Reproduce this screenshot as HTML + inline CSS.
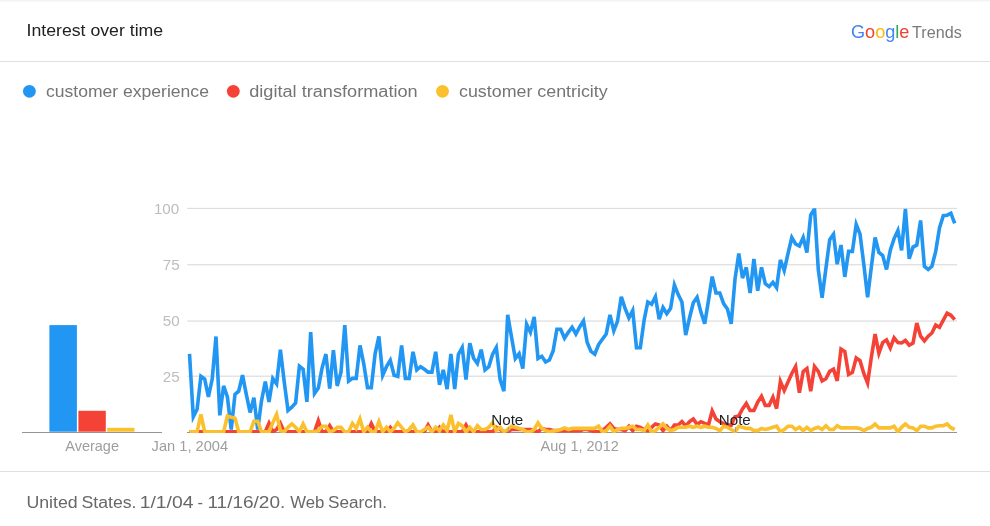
<!DOCTYPE html>
<html lang="en">
<head>
<meta charset="utf-8">
<title>Interest over time - Google Trends</title>
<style>
html,body{margin:0;padding:0;background:#fff;}
body{width:990px;height:526px;overflow:hidden;font-family:'Liberation Sans', Arial, sans-serif;}
#widget{position:relative;width:990px;height:526px;background:#fff;}
svg{position:absolute;left:0;top:0;display:block;}
svg text{font-family:'Liberation Sans', Arial, sans-serif;}
</style>
</head>
<body>
<div id="widget">
<svg width="990" height="526" viewBox="0 0 990 526">

<defs><clipPath id="plot"><rect x="186" y="208.2" width="772" height="224.8"/></clipPath></defs>
<rect x="0" y="0" width="990" height="526" fill="#fff"/>
<rect x="0" y="0.4" width="990" height="1" fill="#ededed"/>
<rect x="0" y="61" width="990" height="1" fill="#e0e0e0"/>
<rect x="0" y="471" width="990" height="1" fill="#e0e0e0"/>
<text x="26.5" y="35.6" font-size="17.30" fill="#212121" text-anchor="start" textLength="136.7" lengthAdjust="spacingAndGlyphs">Interest over time</text>
<text x="850.95" y="37.8" font-size="18.3" textLength="58.49" lengthAdjust="spacingAndGlyphs"><tspan fill="#4285f4">G</tspan><tspan fill="#ea4335">o</tspan><tspan fill="#fbbc05">o</tspan><tspan fill="#4285f4">g</tspan><tspan fill="#34a853">l</tspan><tspan fill="#ea4335">e</tspan></text>
<text x="912.1" y="37.8" font-size="17.20" fill="#7a7a7a" text-anchor="start" textLength="49.6" lengthAdjust="spacingAndGlyphs">Trends</text>
<circle cx="29.4" cy="91.3" r="6.4" fill="#2196f3"/>
<text x="46.0" y="96.5" font-size="17.30" fill="#757575" text-anchor="start" textLength="162.9" lengthAdjust="spacingAndGlyphs">customer experience</text>
<circle cx="233.3" cy="91.3" r="6.4" fill="#f44336"/>
<text x="249.2" y="96.5" font-size="17.30" fill="#757575" text-anchor="start" textLength="168.5" lengthAdjust="spacingAndGlyphs">digital transformation</text>
<circle cx="442.5" cy="91.3" r="6.4" fill="#fbc02d"/>
<text x="459.0" y="96.5" font-size="17.30" fill="#757575" text-anchor="start" textLength="148.7" lengthAdjust="spacingAndGlyphs">customer centricity</text>
<rect x="187.2" y="207.84" width="769.8" height="1.24" fill="#dedede"/>
<text x="153.9" y="213.8" font-size="15.00" fill="#bdbdbd" text-anchor="start" textLength="25.3" lengthAdjust="spacingAndGlyphs">100</text>
<rect x="187.2" y="264.14" width="769.8" height="1.24" fill="#dedede"/>
<text x="162.7" y="270.1" font-size="15.00" fill="#bdbdbd" text-anchor="start" textLength="16.9" lengthAdjust="spacingAndGlyphs">75</text>
<rect x="187.2" y="320.44" width="769.8" height="1.24" fill="#dedede"/>
<text x="162.7" y="326.4" font-size="15.00" fill="#bdbdbd" text-anchor="start" textLength="16.9" lengthAdjust="spacingAndGlyphs">50</text>
<rect x="187.2" y="375.58" width="769.8" height="1.24" fill="#dedede"/>
<text x="162.7" y="381.5" font-size="15.00" fill="#bdbdbd" text-anchor="start" textLength="16.9" lengthAdjust="spacingAndGlyphs">25</text>
<rect x="22" y="432" width="140" height="1" fill="#959595"/>
<rect x="187" y="432" width="770" height="1" fill="#959595"/>
<rect x="49.4" y="325.1" width="27.5" height="106.6" fill="#2196f3"/>
<rect x="78.4" y="410.8" width="27.4" height="20.9" fill="#f44336"/>
<rect x="107.2" y="427.8" width="27.3" height="3.9" fill="#fbc02d"/>
<text x="65.3" y="450.5" font-size="14.80" fill="#9e9e9e" text-anchor="start" textLength="53.7" lengthAdjust="spacingAndGlyphs">Average</text>
<text x="151.6" y="450.5" font-size="14.80" fill="#9e9e9e" text-anchor="start" textLength="76.5" lengthAdjust="spacingAndGlyphs">Jan 1, 2004</text>
<text x="540.6" y="450.5" font-size="14.80" fill="#9e9e9e" text-anchor="start" textLength="78.2" lengthAdjust="spacingAndGlyphs">Aug 1, 2012</text>
<polyline fill="none" stroke="#2196f3" stroke-width="3.60" stroke-linejoin="miter" stroke-miterlimit="4" stroke-linecap="butt" clip-path="url(#plot)" points="189.5,353.9 193.3,416.8 197.1,409.3 200.9,376.3 204.7,379.1 208.4,397.0 212.2,379.1 216.0,336.5 219.8,415.3 223.6,385.9 227.4,397.0 231.2,429.6 235.0,394.4 238.7,391.2 242.5,375.2 246.3,394.4 250.1,412.5 253.9,397.6 257.7,429.6 261.5,400.8 265.3,381.6 269.0,401.9 272.8,378.5 276.6,383.8 280.4,349.7 284.2,381.6 288.0,410.4 291.8,407.2 295.6,402.9 299.4,366.3 303.1,369.3 306.9,401.9 310.7,332.2 314.5,393.4 318.3,388.0 322.1,367.8 325.9,354.1 329.7,388.5 333.4,350.1 337.2,385.9 341.0,372.1 344.8,325.2 348.6,381.2 352.4,378.4 356.2,378.4 360.0,345.4 363.7,363.5 367.5,387.6 371.3,387.6 375.1,353.9 378.9,336.5 382.7,375.2 386.5,366.7 390.3,360.3 394.1,375.2 397.8,376.3 401.6,345.4 405.4,378.4 409.2,378.4 413.0,351.8 416.8,369.9 420.6,366.7 424.4,369.3 428.1,372.1 431.9,372.1 435.7,351.8 439.5,384.8 443.3,369.9 447.1,389.1 450.9,353.9 454.7,389.1 458.4,354.5 462.2,347.5 466.0,379.5 469.8,343.3 473.6,358.2 477.4,363.5 481.2,349.7 485.0,369.9 488.8,366.7 492.5,354.5 496.3,347.5 500.1,379.5 503.9,391.2 507.7,314.8 511.5,337.0 515.3,358.5 519.1,353.8 522.8,368.5 526.6,324.3 530.4,332.3 534.2,317.0 538.0,358.5 541.8,356.3 545.6,362.0 549.4,360.0 553.1,351.0 556.9,329.3 560.7,329.3 564.5,338.2 568.3,332.3 572.1,327.2 575.9,334.0 579.7,327.0 583.5,321.0 587.2,342.5 591.0,351.4 594.8,354.1 598.6,344.5 602.4,339.2 606.2,334.0 610.0,314.8 613.8,330.8 617.5,321.2 621.3,296.7 625.1,308.4 628.9,318.0 632.7,310.6 636.5,347.8 640.3,347.8 644.1,320.2 647.8,302.0 651.6,304.2 655.4,296.7 659.2,319.3 663.0,307.5 666.8,313.8 670.6,308.4 674.4,285.0 678.2,294.6 681.9,302.0 685.7,335.0 689.5,318.0 693.3,302.8 697.1,297.2 700.9,312.1 704.7,323.8 708.5,300.4 712.2,276.6 716.0,293.0 719.8,293.0 723.6,303.6 727.4,308.9 731.2,323.8 735.0,279.1 738.8,253.6 742.5,278.1 746.3,267.4 750.1,293.0 753.9,258.9 757.7,290.8 761.5,267.4 765.3,283.8 769.1,286.6 772.9,282.3 776.6,287.6 780.4,259.9 784.2,270.6 788.0,253.6 791.8,237.6 795.6,244.0 799.4,246.1 803.2,237.6 806.9,252.5 810.7,215.2 814.5,208.8 818.3,269.5 822.1,297.8 825.9,268.4 829.7,239.7 833.5,234.3 837.2,264.2 841.0,245.0 844.8,276.9 848.6,251.4 852.4,251.4 856.2,224.5 860.0,234.0 863.8,264.2 867.6,297.2 871.3,267.4 875.1,237.5 878.9,252.4 882.7,255.6 886.5,269.4 890.3,250.3 894.1,238.6 897.9,230.5 901.6,250.3 905.4,208.9 909.2,258.8 913.0,247.1 916.8,245.0 920.6,220.5 924.4,266.3 928.2,269.5 931.9,266.3 935.7,251.4 939.5,228.0 943.3,215.6 947.1,215.2 950.9,213.2 954.7,223.3"/>
<polyline fill="none" stroke="#f44336" stroke-width="3.60" stroke-linejoin="miter" stroke-miterlimit="4" stroke-linecap="butt" clip-path="url(#plot)" points="189.5,431.8 193.3,431.8 197.1,431.8 200.9,431.8 204.7,431.8 208.4,431.8 212.2,431.8 216.0,431.8 219.8,431.8 223.6,431.8 227.4,431.8 231.2,431.8 235.0,431.8 238.7,431.8 242.5,431.8 246.3,431.8 250.1,431.8 253.9,431.8 257.7,431.8 261.5,431.8 265.3,431.8 269.0,423.3 272.8,431.8 276.6,429.5 280.4,423.3 284.2,431.8 288.0,431.8 291.8,431.8 295.6,431.8 299.4,431.8 303.1,431.8 306.9,431.8 310.7,431.8 314.5,431.8 318.3,420.6 322.1,431.8 325.9,431.8 329.7,425.7 333.4,431.8 337.2,431.8 341.0,431.8 344.8,431.8 348.6,431.8 352.4,431.8 356.2,431.8 360.0,431.8 363.7,431.8 367.5,431.8 371.3,423.5 375.1,431.8 378.9,431.8 382.7,431.8 386.5,431.8 390.3,427.3 394.1,431.8 397.8,431.8 401.6,431.8 405.4,431.8 409.2,431.8 413.0,431.8 416.8,431.8 420.6,431.8 424.4,431.8 428.1,425.0 431.9,431.8 435.7,431.8 439.5,427.3 443.3,431.8 447.1,431.8 450.9,431.8 454.7,431.8 458.4,431.8 462.2,431.8 466.0,425.0 469.8,431.8 473.6,431.8 477.4,431.8 481.2,431.8 485.0,431.8 488.8,431.8 492.5,431.8 496.3,427.3 500.1,429.5 503.9,431.8 507.7,431.8 511.5,429.5 515.3,429.5 519.1,429.5 522.8,429.5 526.6,429.5 530.4,429.5 534.2,430.6 538.0,431.8 541.8,428.4 545.6,429.5 549.4,429.5 553.1,430.6 556.9,430.6 560.7,430.6 564.5,430.6 568.3,430.6 572.1,430.6 575.9,430.6 579.7,430.6 583.5,429.5 587.2,429.5 591.0,430.6 594.8,431.8 598.6,431.8 602.4,430.6 606.2,427.3 610.0,423.9 613.8,428.4 617.5,429.5 621.3,429.5 625.1,430.6 628.9,426.2 632.7,430.6 636.5,426.2 640.3,427.3 644.1,429.5 647.8,430.6 651.6,427.3 655.4,423.9 659.2,425.0 663.0,430.6 666.8,426.2 670.6,430.6 674.4,425.0 678.2,425.0 681.9,421.5 685.7,425.9 689.5,421.7 693.3,419.0 697.1,424.4 700.9,421.7 704.7,423.3 708.5,424.8 712.2,411.0 716.0,419.0 719.8,421.7 723.6,423.7 727.4,424.8 731.2,425.3 735.0,416.8 738.8,415.9 742.5,408.9 746.3,403.4 750.1,410.5 753.9,410.5 757.7,402.2 761.5,396.3 765.3,405.4 769.1,405.4 772.9,397.2 776.6,408.6 780.4,381.4 784.2,390.5 788.0,382.0 791.8,373.5 795.6,366.5 799.4,392.7 803.2,371.5 806.9,368.6 810.7,391.2 814.5,366.5 818.3,371.4 822.1,380.9 825.9,378.8 829.7,371.4 833.5,369.2 837.2,380.9 841.0,349.0 844.8,351.5 848.6,374.5 852.4,372.4 856.2,357.9 860.0,360.7 863.8,373.4 867.6,383.0 871.3,357.5 875.1,334.1 878.9,353.2 882.7,342.6 886.5,340.0 890.3,347.9 894.1,337.9 897.9,342.6 901.6,343.0 905.4,340.5 909.2,345.2 913.0,343.0 916.8,323.0 920.6,336.2 924.4,340.9 928.2,336.2 931.9,333.0 935.7,325.1 939.5,327.3 943.3,320.2 947.1,313.2 950.9,315.3 954.7,319.6"/>
<polyline fill="none" stroke="#fbc02d" stroke-width="3.60" stroke-linejoin="miter" stroke-miterlimit="4" stroke-linecap="butt" clip-path="url(#plot)" points="189.5,431.8 193.3,431.8 197.1,431.8 200.9,414.5 204.7,431.8 208.4,431.8 212.2,431.8 216.0,431.8 219.8,431.8 223.6,431.8 227.4,416.1 231.2,417.2 235.0,418.3 238.7,431.8 242.5,431.8 246.3,431.8 250.1,431.8 253.9,421.2 257.7,421.2 261.5,431.8 265.3,431.8 269.0,431.8 272.8,422.8 276.6,414.3 280.4,430.6 284.2,431.8 288.0,427.3 291.8,423.9 295.6,427.3 299.4,431.8 303.1,423.9 306.9,431.8 310.7,431.8 314.5,431.8 318.3,430.6 322.1,426.2 325.9,426.2 329.7,431.8 333.4,430.6 337.2,427.3 341.0,427.3 344.8,431.8 348.6,431.8 352.4,423.5 356.2,428.4 360.0,418.8 363.7,431.8 367.5,427.3 371.3,431.8 375.1,431.8 378.9,421.7 382.7,431.8 386.5,427.3 390.3,431.8 394.1,428.4 397.8,422.8 401.6,427.3 405.4,431.8 409.2,429.5 413.0,425.0 416.8,431.8 420.6,431.8 424.4,429.5 428.1,427.3 431.9,431.8 435.7,427.3 439.5,430.6 443.3,425.0 447.1,430.6 450.9,415.0 454.7,431.8 458.4,423.5 462.2,425.9 466.0,431.8 469.8,427.3 473.6,431.8 477.4,425.7 481.2,429.5 485.0,429.5 488.8,427.3 492.5,422.8 496.3,430.6 500.1,427.3 503.9,431.8 507.7,429.5 511.5,426.2 515.3,427.3 519.1,428.4 522.8,429.5 526.6,431.8 530.4,431.8 534.2,429.5 538.0,422.8 541.8,428.4 545.6,430.6 549.4,431.8 553.1,431.1 556.9,430.6 560.7,429.5 564.5,427.9 568.3,429.5 572.1,428.4 575.9,428.4 579.7,428.4 583.5,428.4 587.2,428.4 591.0,428.4 594.8,428.4 598.6,426.2 602.4,431.8 606.2,430.6 610.0,426.2 613.8,431.8 617.5,429.5 621.3,428.4 625.1,428.4 628.9,427.3 632.7,426.2 636.5,429.5 640.3,429.5 644.1,430.6 647.8,425.0 651.6,431.8 655.4,430.6 659.2,427.3 663.0,423.9 666.8,428.4 670.6,430.6 674.4,429.5 678.2,427.3 681.9,427.3 685.7,427.3 689.5,426.2 693.3,427.3 697.1,426.2 700.9,427.3 704.7,426.2 708.5,427.3 712.2,427.3 716.0,428.4 719.8,430.6 723.6,426.2 727.4,427.3 731.2,429.5 735.0,431.8 738.8,426.6 742.5,427.3 746.3,428.4 750.1,428.4 753.9,430.6 757.7,430.6 761.5,428.4 765.3,429.5 769.1,428.4 772.9,427.3 776.6,426.2 780.4,431.8 784.2,429.5 788.0,426.2 791.8,426.2 795.6,429.5 799.4,427.3 803.2,430.6 806.9,427.3 810.7,430.6 814.5,428.4 818.3,427.3 822.1,429.5 825.9,425.7 829.7,429.5 833.5,429.5 837.2,425.7 841.0,427.9 844.8,427.9 848.6,427.9 852.4,427.9 856.2,427.9 860.0,428.4 863.8,430.6 867.6,428.4 871.3,427.3 875.1,423.9 878.9,427.9 882.7,427.9 886.5,427.9 890.3,427.9 894.1,426.2 897.9,431.8 901.6,427.3 905.4,423.9 909.2,427.3 913.0,427.9 916.8,430.6 920.6,426.2 924.4,426.2 928.2,427.9 931.9,427.9 935.7,426.2 939.5,425.7 943.3,425.7 947.1,423.9 950.9,427.7 954.7,429.5"/>
<rect x="507.8" y="427" width="1" height="5" fill="#9e9e9e"/>
<text x="491.3" y="424.7" font-size="15.10" fill="#202124" text-anchor="start" textLength="32.0" lengthAdjust="spacingAndGlyphs">Note</text>
<rect x="734.9" y="427" width="1" height="5" fill="#9e9e9e"/>
<text x="718.8" y="424.7" font-size="15.10" fill="#202124" text-anchor="start" textLength="32.0" lengthAdjust="spacingAndGlyphs">Note</text>
<text x="26.4" y="508.3" font-size="17.30" fill="#686868" text-anchor="start" textLength="51.3" lengthAdjust="spacingAndGlyphs">United</text>
<text x="81.5" y="508.3" font-size="17.30" fill="#686868" text-anchor="start" textLength="55.0" lengthAdjust="spacingAndGlyphs">States.</text>
<text x="139.7" y="508.3" font-size="17.30" fill="#686868" text-anchor="start" textLength="53.8" lengthAdjust="spacingAndGlyphs">1/1/04</text>
<text x="197.4" y="508.3" font-size="17.30" fill="#686868" text-anchor="start" textLength="5.5" lengthAdjust="spacingAndGlyphs">-</text>
<text x="207.4" y="508.3" font-size="17.30" fill="#686868" text-anchor="start" textLength="77.9" lengthAdjust="spacingAndGlyphs">11/16/20.</text>
<text x="290.2" y="508.3" font-size="17.30" fill="#686868" text-anchor="start" textLength="34.1" lengthAdjust="spacingAndGlyphs">Web</text>
<text x="328.0" y="508.3" font-size="17.30" fill="#686868" text-anchor="start" textLength="59.1" lengthAdjust="spacingAndGlyphs">Search.</text>
</svg>
</div>
</body>
</html>
